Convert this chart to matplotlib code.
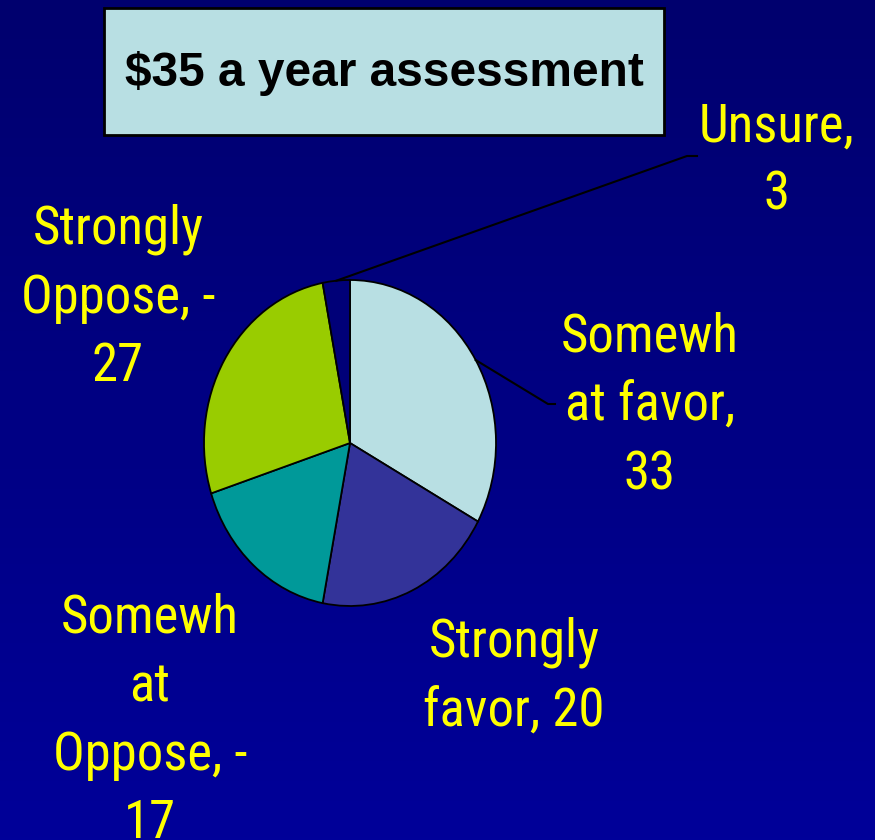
import numpy as np
import matplotlib.pyplot as plt
from matplotlib.patches import Rectangle
from matplotlib.colors import LinearSegmentedColormap

# survey answers, clockwise from 12 o'clock
labels = ['Somewhat favor', 'Strongly favor', 'Somewhat Oppose', 'Strongly Oppose', 'Unsure']
values = [33, 20, 17, 27, 3]
colors = ['#B8DFE3', '#333399', '#009999', '#99CC00', '#000078']
label_text = ['Somewh\nat favor,\n33', 'Strongly\nfavor, 20', 'Somewh\nat\nOppose, -\n17',
              'Strongly\nOppose, -\n27', 'Unsure,\n3']
title = '$35 a year assessment'

W, H = 875, 840
fig = plt.figure(figsize=(W / 100, H / 100), dpi=100)

# background gradient, dark navy at top
bg = fig.add_axes([0, 0, 1, 1])
cmap = LinearSegmentedColormap.from_list('bg', ['#00006E', '#000099'])
bg.imshow(np.linspace(0, 1, 256).reshape(-1, 1), aspect='auto', cmap=cmap,
          extent=[0, W, H, 0])
bg.set_xlim(0, W)
bg.set_ylim(H, 0)
bg.axis('off')

# pie (slightly taller than wide, like the slide)
cx, cy, rx, ry = 350, 443, 146, 163
pax = fig.add_axes([(cx - rx) / W, (H - cy - ry) / H, 2 * rx / W, 2 * ry / H])
wedges, _ = pax.pie(values, colors=colors, startangle=90, counterclock=False,
                    wedgeprops=dict(edgecolor='black', linewidth=1.3))
pax.set_aspect('auto')
pax.set_xlim(-1, 1)
pax.set_ylim(-1, 1)
pax.axis('off')

# overlay in pixel coords for labels
ov = fig.add_axes([0, 0, 1, 1])
ov.set_xlim(0, W)
ov.set_ylim(H, 0)
ov.axis('off')

def edge_point(w):
    a = np.deg2rad((w.theta1 + w.theta2) / 2)
    disp = pax.transData.transform((np.cos(a), np.sin(a)))
    return ov.transData.inverted().transform(disp)

label_pos = [(650, 406), (514, 677), (150, 721), (118, 298), (777, 161)]
font = ['Roboto Condensed', 'DejaVu Sans']
for txt, (x, y) in zip(label_text, label_pos):
    ov.text(x, y, txt, color='#FFFF00', fontsize=38, family=font,
            ha='center', va='center', linespacing=1.44, multialignment='center')

# leader lines
p = edge_point(wedges[4])
ov.plot([p[0], 687, 697], [p[1], 156, 156], color='black', lw=1.5)
p = edge_point(wedges[0])
ov.plot([p[0], 548, 555], [p[1], 404, 404], color='black', lw=1.5)

# title box
ov.add_patch(Rectangle((104, 8), 560, 127, facecolor='#B8DFE3', edgecolor='black', lw=2))
ov.text(384, 73, title, fontsize=34.5, fontweight='bold', family=['Liberation Sans', 'DejaVu Sans'],
        ha='center', va='center', color='black')

plt.savefig('out.png', dpi=100)
